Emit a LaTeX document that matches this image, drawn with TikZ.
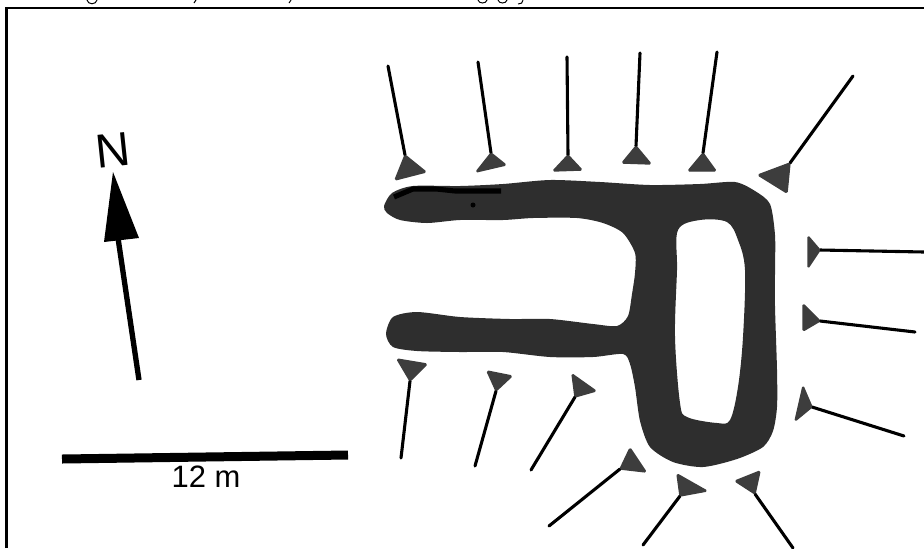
\documentclass[tikz,border=0pt]{standalone}
\usepackage{fontspec}
\setmainfont{Liberation Sans}
\tikzset{
  pinline/.style={black, line width=2.2pt, line cap=round},
  pinhead/.style={fill=black!76, draw=black!76, line width=1pt, line join=round, rounded corners=1pt},
  trench/.style={fill=black!82, even odd rule},
  framepen/.style={black, line width=1.7pt},
  scrap/.style={black, line width=0.7pt}
}
\begin{document}
\begin{tikzpicture}
\begin{scope}[x=0.025cm, y=-0.025cm]
  \useasboundingbox (0,0) rectangle (924,548);
  % caption scraps and frame
  \draw[framepen] (6.5,548) -- (6.5,8) -- (924,8);
  \draw[scrap] (87,0) .. controls (88,5) and (96,5) .. (97,0);
  \draw[scrap] (478,0) .. controls (479,4) and (486,4) .. (487,0);
  \draw[scrap] (498,0) .. controls (499,4) and (506,4) .. (507,0);
  \draw[scrap] (523,0) .. controls (523,3) and (521,4) .. (518,4);
  \foreach \x in {196,291} \draw[scrap] (\x,0) -- (\x-2,3);
  % north arrow
  \draw[black, line width=3.8pt] (139,380) -- (118,238);
  \fill[black] (113,172) -- (139,238) -- (104,242) -- cycle;
  \node[font=\fontsize{34}{34}\selectfont, rotate=6, inner sep=0pt] (north) at (112.5,150) {N};
  % scale bar
  \draw[black, line width=6.4pt] (62,459) -- (348,455);
  \node[font=\fontsize{22}{22}\selectfont, inner sep=0pt] (barlabel) at (206,477) {12 m};
  % trenches, outer edge then inner court
  \fill[trench] plot[smooth cycle, tension=0.45] coordinates {
    (384,206) (392,193) (413,186) (460,186) (503,184) (550,180) (600,182) (650,185)
    (700,184) (735,182) (755,191) (770,204) (775,235) (775,270) (775,307) (777,370) (777,407)
    (773,431) (763,447) (737,459) (703,467) (673,462) (650,447) (640,421)
    (635,387) (630,364) (623,354) (593,357) (550,357) (503,352) (460,352)
    (417,351) (393,347) (386,334) (393,317) (417,312) (460,317) (510,319)
    (550,319) (593,324) (617,326) (628,316) (632,294) (635,273) (635,253)
    (623,233) (603,223) (577,218) (533,218) (503,220) (460,220) (427,223)
    (400,220) (387,213)}
    plot[smooth cycle, tension=0.55] coordinates {
    (678,230) (700,220) (727,222) (738,240) (745,270) (743,337) (738,387)
    (730,420) (717,423) (687,417) (680,403) (675,337) (677,270)};
  % dark streak on upper arm
  \draw[black, line width=3.6pt, line join=round] (394,197) -- (413,189) -- (436,189) -- (455,191) -- (501,191);
  \fill[black] (473,205) circle (2.5);
  % pins: free end / apex / two base corners
  \foreach \ex/\ey/\ax/\ay/\bx/\by/\cx/\cy in {
    388/66/405/155/395/180/426/172,
    478/62/491/153/476/172/506/165,
    567/57/568/155/553/171/582/170,
    640/53/636/146/622/163/651/164,
    717/52/703/153/688/171/716/171,
    853/76/790/163/758/175/787/193,
    924/252/820/250/808/236/808/268,
    915/332/820/321/803/304/803/331,
    904/436/812/407/803/386/795/421,
    793/548/755/494/760/471/735/481,
    643/545/680/496/677/474/707/491,
    549/526/620/469/630/448/646/472,
    531/470/575/397/572/374/596/391,
    475/466/496/391/487/371/512/376,
    401/458/410/381/397/359/427/364}
    {
    \draw[pinline] (\ex,\ey) -- (\ax,\ay);
    \filldraw[pinhead] (\ax,\ay) -- (\bx,\by) -- (\cx,\cy) -- cycle;
    }
\end{scope}
\end{tikzpicture}
\end{document}
